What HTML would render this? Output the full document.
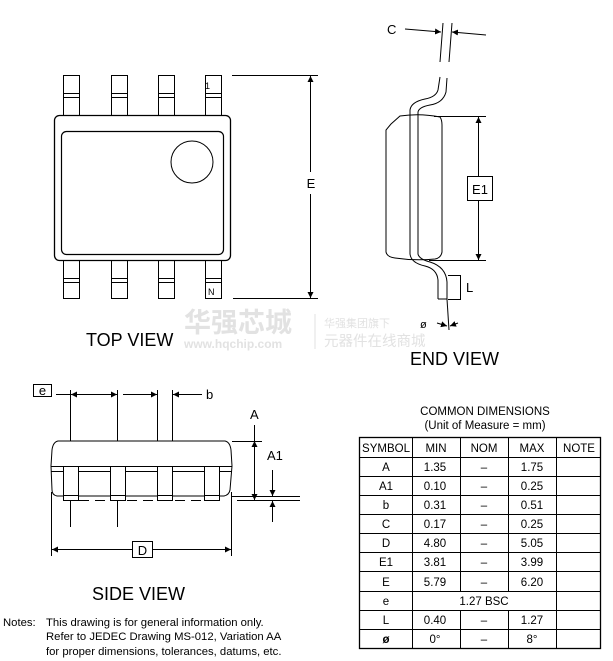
<!DOCTYPE html>
<html><head><meta charset="utf-8"><style>
html,body{margin:0;padding:0;background:#fff;}
svg{display:block;font-family:"Liberation Sans",Arial,sans-serif;}
</style></head><body>
<svg width="613" height="661" viewBox="0 0 613 661" xmlns="http://www.w3.org/2000/svg">
<defs>
<marker id="ar" viewBox="0 0 10 10" refX="10" refY="5" markerWidth="6" markerHeight="7" orient="auto-start-reverse" markerUnits="userSpaceOnUse"><path d="M0,0 L10,5 L0,10 z" fill="#000"/></marker>
</defs>
<g stroke="#000" stroke-width="1" fill="none">
<g>
<rect x="63.5" y="75.5" width="16" height="40"/><line x1="63" y1="93.5" x2="80" y2="93.5"/><line x1="63" y1="97.5" x2="80" y2="97.5"/>
<rect x="111.5" y="75.5" width="16" height="40"/><line x1="111" y1="93.5" x2="128" y2="93.5"/><line x1="111" y1="97.5" x2="128" y2="97.5"/>
<rect x="158.5" y="75.5" width="16" height="40"/><line x1="158" y1="93.5" x2="175" y2="93.5"/><line x1="158" y1="97.5" x2="175" y2="97.5"/>
<rect x="205.5" y="75.5" width="16" height="40"/><line x1="205" y1="93.5" x2="222" y2="93.5"/><line x1="205" y1="97.5" x2="222" y2="97.5"/>
<rect x="63.5" y="259.5" width="16" height="39"/><line x1="63" y1="278.5" x2="80" y2="278.5"/><line x1="63" y1="282.5" x2="80" y2="282.5"/>
<rect x="111.5" y="259.5" width="16" height="39"/><line x1="111" y1="278.5" x2="128" y2="278.5"/><line x1="111" y1="282.5" x2="128" y2="282.5"/>
<rect x="158.5" y="259.5" width="16" height="39"/><line x1="158" y1="278.5" x2="175" y2="278.5"/><line x1="158" y1="282.5" x2="175" y2="282.5"/>
<rect x="205.5" y="259.5" width="16" height="39"/><line x1="205" y1="278.5" x2="222" y2="278.5"/><line x1="205" y1="282.5" x2="222" y2="282.5"/>
</g>
<rect x="54.5" y="115.5" width="176" height="145" rx="5" fill="#fff" stroke-width="1.3"/>
<rect x="61.5" y="131.5" width="162" height="123" rx="5" stroke-width="1.2"/>
<circle cx="192" cy="162" r="21"/>
<line x1="232" y1="75.5" x2="318" y2="75.5"/>
<line x1="233" y1="298.5" x2="318" y2="298.5"/>
<line x1="310.5" y1="76" x2="310.5" y2="172" marker-start="url(#ar)"/>
<line x1="310.5" y1="194" x2="310.5" y2="298" marker-end="url(#ar)"/>

<path d="M443,23 L440,62 M452,23 L449,62"/>
<line x1="405" y1="29" x2="441" y2="32" marker-end="url(#ar)"/>
<line x1="486" y1="35" x2="452" y2="32" marker-end="url(#ar)"/>
<path d="M391,124 L400,116 Q420,113 440,117 Q442,120 442,125 L442,252 Q441,258 435,259 Q415,261 395,258 Q387,257 386,252 L386,130 Z" fill="#fff"/>
<path d="M440,77 L438,90 Q436,97 425,99 Q411,102 410,110 L410,254 Q411,263 425,266 Q437,269 438,280 L438,299 M447,78 L446,92 Q443,103 430,105 Q419,107 418,112 L418,254 Q419,259 430,262 Q446,267 447,282 L447,299 M438,299 L447,299"/>
<line x1="434" y1="116.5" x2="486" y2="116.5"/>
<line x1="429" y1="260.5" x2="486" y2="260.5"/>
<line x1="478.5" y1="117" x2="478.5" y2="176" marker-start="url(#ar)"/>
<line x1="478.5" y1="200" x2="478.5" y2="260" marker-end="url(#ar)"/>
<rect x="467.5" y="176.5" width="25" height="24" fill="#fff"/>
<line x1="448" y1="275.5" x2="461" y2="275.5"/>
<line x1="448" y1="299.5" x2="461" y2="299.5"/>
<line x1="460.5" y1="276" x2="460.5" y2="299"/>
<line x1="447" y1="299" x2="449" y2="330"/>
<line x1="437" y1="323" x2="447" y2="326" marker-end="url(#ar)"/>
<line x1="458" y1="323" x2="450" y2="326" marker-end="url(#ar)"/>

<rect x="33.5" y="384.5" width="18" height="12" fill="#fff"/>
<line x1="70.5" y1="390" x2="70.5" y2="527"/>
<line x1="117.5" y1="390" x2="117.5" y2="527"/>
<line x1="157.5" y1="390" x2="157.5" y2="455"/>
<line x1="172.5" y1="390" x2="172.5" y2="455"/>
<line x1="56" y1="394.5" x2="70" y2="394.5"/>
<line x1="71" y1="394.5" x2="117" y2="394.5" marker-start="url(#ar)" marker-end="url(#ar)"/>
<line x1="123" y1="394.5" x2="157" y2="394.5" marker-end="url(#ar)"/>
<line x1="202" y1="394.5" x2="173" y2="394.5" marker-end="url(#ar)"/>
<path d="M58,441 L225,441 Q230,442 231,450 L232,466 L230,490 Q229,495 224,496 L57,496 Q52,495 52,490 L51,466 L52,450 Q53,442 58,441 Z" fill="#fff"/>
<line x1="51" y1="466.5" x2="232" y2="466.5"/>
<line x1="51" y1="471.5" x2="232" y2="471.5"/>
<rect x="63.5" y="466.5" width="15" height="34" fill="#fff"/><line x1="63" y1="495.5" x2="79" y2="495.5"/>
<rect x="110.5" y="466.5" width="15" height="34" fill="#fff"/><line x1="110" y1="495.5" x2="126" y2="495.5"/>
<rect x="157.5" y="466.5" width="15" height="34" fill="#fff"/><line x1="157" y1="495.5" x2="173" y2="495.5"/>
<rect x="204.5" y="466.5" width="15" height="34" fill="#fff"/><line x1="204" y1="495.5" x2="220" y2="495.5"/>
<line x1="79" y1="500.5" x2="204" y2="500.5" stroke-dasharray="10,6"/>
<line x1="232" y1="441.5" x2="262" y2="441.5"/>
<line x1="232" y1="496.5" x2="300" y2="496.5"/>
<line x1="237" y1="500.5" x2="300" y2="500.5"/>
<line x1="254.5" y1="425" x2="254.5" y2="500" marker-end="url(#ar)"/>
<line x1="254.5" y1="441" x2="254.5" y2="470" marker-start="url(#ar)"/>
<line x1="272.5" y1="470" x2="272.5" y2="496" marker-end="url(#ar)"/>
<line x1="272.5" y1="522" x2="272.5" y2="501" marker-end="url(#ar)"/>
<line x1="51.5" y1="492" x2="51.5" y2="556"/>
<line x1="231.5" y1="492" x2="231.5" y2="556"/>
<line x1="52" y1="549.5" x2="132" y2="549.5" marker-start="url(#ar)"/>
<line x1="152" y1="549.5" x2="231" y2="549.5" marker-end="url(#ar)"/>
<rect x="132.5" y="541.5" width="20" height="16" fill="#fff"/>

<rect x="359.5" y="437.5" width="241" height="211" stroke-width="1.3"/>
<g>
<line x1="359" y1="457.5" x2="601" y2="457.5"/>
<line x1="359" y1="476.5" x2="601" y2="476.5"/>
<line x1="359" y1="495.5" x2="601" y2="495.5"/>
<line x1="359" y1="514.5" x2="601" y2="514.5"/>
<line x1="359" y1="533.5" x2="601" y2="533.5"/>
<line x1="359" y1="552.5" x2="601" y2="552.5"/>
<line x1="359" y1="571.5" x2="601" y2="571.5"/>
<line x1="359" y1="591.5" x2="601" y2="591.5"/>
<line x1="359" y1="610.5" x2="601" y2="610.5"/>
<line x1="359" y1="629.5" x2="601" y2="629.5"/>
<line x1="412.5" y1="437" x2="412.5" y2="649"/>
<line x1="460.5" y1="437" x2="460.5" y2="591"/><line x1="460.5" y1="610" x2="460.5" y2="649"/>
<line x1="508.5" y1="437" x2="508.5" y2="591"/><line x1="508.5" y1="610" x2="508.5" y2="649"/>
<line x1="556.5" y1="437" x2="556.5" y2="649"/>
</g>
</g>

<g font-size="13" fill="#000">
<text x="205" y="89" font-size="9">1</text>
<text x="208" y="295" font-size="9">N</text>
<text x="311" y="188" text-anchor="middle">E</text>
<text x="86" y="346" font-size="18">TOP VIEW</text>
<text x="387" y="34">C</text>
<text x="480" y="194" text-anchor="middle">E1</text>
<text x="466" y="292">L</text>
<text x="420" y="328" font-size="11">ø</text>
<text x="410" y="365" font-size="18">END VIEW</text>
<text x="42.5" y="395" text-anchor="middle">e</text>
<text x="206" y="399">b</text>
<text x="250" y="419">A</text>
<text x="267" y="460">A1</text>
<text x="142.5" y="555" text-anchor="middle">D</text>
<text x="92" y="600" font-size="18">SIDE VIEW</text>
</g>
<g font-size="11.3" fill="#000">
<text x="3" y="626">Notes:</text>
<text x="46" y="626">This drawing is for general information only.</text>
<text x="46" y="640">Refer to JEDEC Drawing MS-012, Variation AA</text>
<text x="46" y="655">for proper dimensions, tolerances, datums, etc.</text>
</g>
<g font-size="11.5" fill="#000" text-anchor="middle">
<text x="485" y="415">COMMON DIMENSIONS</text>
<text x="485" y="429">(Unit of Measure = mm)</text>
<text x="386" y="452">SYMBOL</text><text x="436" y="452">MIN</text><text x="484" y="452">NOM</text><text x="532" y="452">MAX</text><text x="579" y="452">NOTE</text>
<text x="386" y="471">A</text><text x="435" y="471">1.35</text><text x="484" y="471">–</text><text x="532" y="471">1.75</text>
<text x="386" y="490">A1</text><text x="435" y="490">0.10</text><text x="484" y="490">–</text><text x="532" y="490">0.25</text>
<text x="386" y="509">b</text><text x="435" y="509">0.31</text><text x="484" y="509">–</text><text x="532" y="509">0.51</text>
<text x="386" y="528">C</text><text x="435" y="528">0.17</text><text x="484" y="528">–</text><text x="532" y="528">0.25</text>
<text x="386" y="547">D</text><text x="435" y="547">4.80</text><text x="484" y="547">–</text><text x="532" y="547">5.05</text>
<text x="386" y="566">E1</text><text x="435" y="566">3.81</text><text x="484" y="566">–</text><text x="532" y="566">3.99</text>
<text x="386" y="586">E</text><text x="435" y="586">5.79</text><text x="484" y="586">–</text><text x="532" y="586">6.20</text>
<text x="386" y="605">e</text><text x="484" y="605">1.27 BSC</text>
<text x="386" y="624">L</text><text x="435" y="624">0.40</text><text x="484" y="624">–</text><text x="532" y="624">1.27</text>
<text x="386" y="643" font-weight="bold">ø</text><text x="435" y="643">0°</text><text x="484" y="643">–</text><text x="532" y="643">8°</text>
</g>
<g fill="#e2e2e2" font-family="'Liberation Sans','Noto Sans CJK SC',sans-serif">
<text x="184" y="332" font-size="27" font-weight="bold">华强芯城</text>
<text x="184" y="348" font-size="12" font-weight="bold">www.hqchip.com</text>
<line x1="315" y1="314" x2="315" y2="349" stroke="#e2e2e2"/>
<text x="324" y="327" font-size="11">华强集团旗下</text>
<text x="324" y="346" font-size="14.5">元器件在线商城</text>
</g>
</svg>
</body></html>
